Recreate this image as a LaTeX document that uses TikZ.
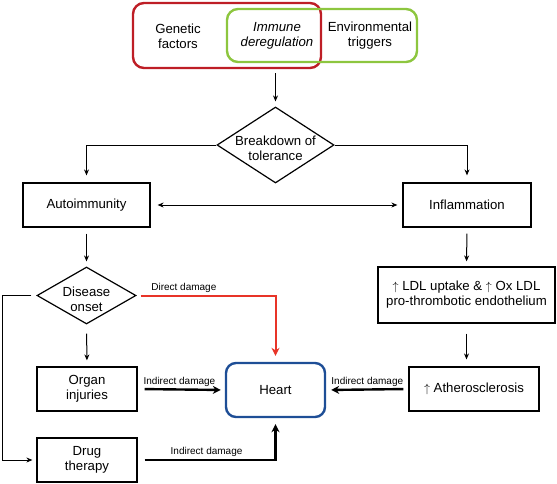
\documentclass[tikz,border=0pt]{standalone}
\usepackage{fontspec}
\setmainfont{Liberation Sans}
\usetikzlibrary{shapes.geometric,arrows.meta}

\definecolor{genred}{RGB}{190,30,38}
\definecolor{envgreen}{RGB}{141,198,63}
\definecolor{heartblue}{RGB}{30,78,150}
\definecolor{directred}{RGB}{232,52,40}

\begin{document}
\begin{tikzpicture}[
    x=1pt, y=-1pt,
    font=\fontsize{13.2}{15}\selectfont,
    box/.style={rectangle, draw=black, line width=1.2pt, align=center, inner sep=2pt},
    decision/.style={diamond, draw=black, line width=1.2pt, inner sep=0pt},
    factor/.style={rectangle, line width=2.4pt, rounded corners=11pt},
    arrow/.style={line width=1pt, -{Stealth[length=6pt,width=5pt]}},
    damage/.style={line width=2.4pt, -{Stealth[length=8pt,width=8pt]}},
    note/.style={font=\fontsize{10}{12}\selectfont, inner sep=2pt}
]
    \useasboundingbox (0,0) rectangle (557,483);

    % causes
    \node[factor, draw=genred, minimum width=188pt, minimum height=65pt] (genetic) at (227,35.5) {};
    \node[factor, draw=envgreen, minimum width=190pt, minimum height=53pt] (environ) at (322,35.5) {};
    \node[align=center] (gentxt) at (178,36) {Genetic\\factors};
    \node[align=center, font=\fontsize{13.2}{15}\selectfont\itshape] (immune) at (277,36) {Immune\\deregulation};
    \node[align=center] (envtxt) at (370,36) {Environmental\\triggers};
    \coordinate (src) at (275.5,73);

    % main flow
    \node[decision, minimum width=117pt, minimum height=76pt,
        label={[align=center, yshift=-3pt]center:Breakdown of\\tolerance}] (brk) at (275.5,145) {};
    \node[box, minimum width=127pt, minimum height=44pt] (auto) at (86.5,205) {Autoimmunity};
    \node[box, minimum width=128pt, minimum height=44pt] (infl) at (467,205) {Inflammation};
    \node[decision, minimum width=99pt, minimum height=57pt,
        label={[align=center, yshift=-4pt]center:Disease\\onset}] (onset) at (86.5,295.5) {};
    \node[box, minimum width=177pt, minimum height=56pt] (ldl) at (466.5,295) {$\uparrow$ LDL uptake \& $\uparrow$ Ox LDL\\pro-thrombotic endothelium};
    \node[box, minimum width=100pt, minimum height=44pt] (organ) at (87,389) {Organ\\injuries};
    \node[box, minimum width=100pt, minimum height=44pt] (drug) at (87,460) {Drug\\therapy};
    \node[box, minimum width=130pt, minimum height=44pt] (ath) at (474,389) {$\uparrow$ Atherosclerosis};
    \node[rectangle, draw=heartblue, line width=2.4pt, rounded corners=10pt,
        minimum width=99pt, minimum height=54pt] (heart) at (275.5,390) {Heart};

    % connectors
    \draw[arrow, shorten >=5pt] (src) -- (brk.north);
    \draw[arrow, shorten >=7pt] (brk.west) -| (auto.north);
    \draw[arrow, shorten >=7pt] (brk.east) -| (infl.north);
    \draw[line width=1pt, {Stealth[length=6pt,width=5pt]}-{Stealth[length=6pt,width=5pt]},
        shorten <=7pt, shorten >=5pt] (auto.east) -- (infl.west);
    \draw[arrow, shorten <=6pt, shorten >=5pt] (auto.south) -- (onset.north);
    \draw[arrow, shorten <=6pt, shorten >=5pt] (infl.south) -- (ldl.north);
    \draw[arrow, shorten <=10pt, shorten >=7pt] (ldl.south) -- (ldl.south |- ath.north);
    \draw[arrow, shorten <=9pt, shorten >=6pt] (onset.south) -- (organ.north);
    \draw[arrow, shorten <=5pt, shorten >=4pt] (onset.west) -- ([xshift=-34pt]onset.west) |- (drug.west);

    % damage to the heart
    \draw[damage, directred, line width=2pt, shorten <=4pt, shorten >=6pt]
        (onset.east) -| node[note, above, pos=0.17, text=black] {Direct damage} (heart.north);
    \draw[damage, shorten <=7pt, shorten >=4pt] (organ.east) -- node[note, above, pos=0.48] {Indirect damage} (heart.west);
    \draw[damage, shorten <=7pt, shorten >=6pt] (drug.east) -| node[note, above, pos=0.25] {Indirect damage} (heart.south);
    \draw[damage, shorten <=5pt, shorten >=5pt] (ath.west) -- node[note, above, pos=0.5] {Indirect damage} (heart.east);
\end{tikzpicture}
\end{document}
